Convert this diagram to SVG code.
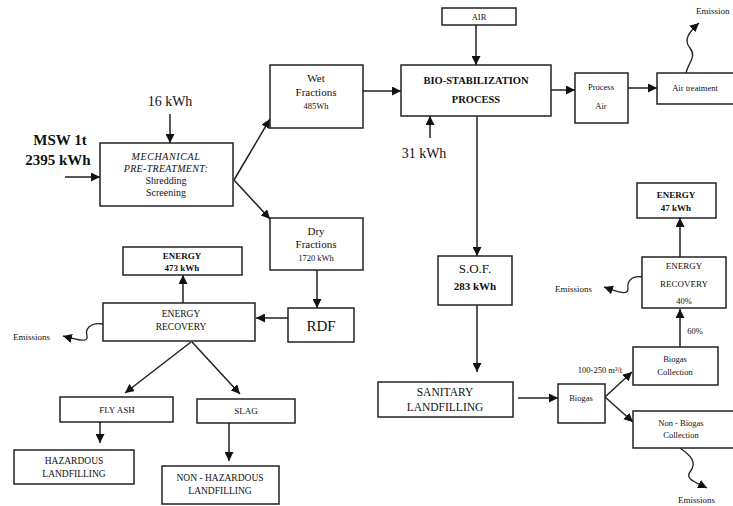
<svg xmlns="http://www.w3.org/2000/svg" width="733" height="506" viewBox="0 0 733 506">
<style>
  .box { fill: #fff; stroke: #222; stroke-width: 1.5; }
  .ln { fill: none; stroke: #222; stroke-width: 1.5; marker-end: url(#ah); }
  .sq { fill: none; stroke: #222; stroke-width: 1.3; marker-end: url(#ah); }
  text { font-family: "Liberation Serif", "Times New Roman", serif; fill: #111; text-anchor: middle; }
  .s { font-size: 10px; }
  .b { font-weight: bold; }
  .e { font-size: 9px; text-anchor: start; }
</style>
<defs>
  <marker id="ah" markerUnits="userSpaceOnUse" markerWidth="10" markerHeight="9" refX="9" refY="4.5" orient="auto">
    <path d="M0,0 L9,4.5 L0,9 z" fill="#111"/>
  </marker>
</defs>
<rect width="733" height="506" fill="#fff"/>

<g id="connectors">
  <line class="ln" x1="65" y1="177" x2="100" y2="177"/>
  <line class="ln" x1="170" y1="114" x2="170" y2="143"/>
  <line class="ln" x1="234" y1="180" x2="270" y2="119"/>
  <line class="ln" x1="234" y1="180" x2="270" y2="219"/>
  <line class="ln" x1="363" y1="91" x2="401" y2="91"/>
  <line class="ln" x1="476" y1="25" x2="476" y2="65"/>
  <line class="ln" x1="430" y1="138" x2="430" y2="116"/>
  <line class="ln" x1="551" y1="90" x2="575" y2="90"/>
  <line class="ln" x1="628" y1="88" x2="657" y2="88"/>
  <path class="sq" d="M686,73 C688,63 697,57 690,48 C683,40 689,32 699,23"/>
  <line class="ln" x1="317" y1="270" x2="317" y2="308"/>
  <line class="ln" x1="288" y1="318" x2="256" y2="318"/>
  <line class="ln" x1="183" y1="303" x2="183" y2="275"/>
  <path class="sq" d="M103,324 C89,322 85,330 87,336 C89,343 78,340 63,336"/>
  <line class="ln" x1="191" y1="342" x2="125" y2="393"/>
  <line class="ln" x1="192" y1="342" x2="240" y2="394"/>
  <line class="ln" x1="100" y1="422" x2="100" y2="443"/>
  <line class="ln" x1="229" y1="423" x2="229" y2="461"/>
  <line class="ln" x1="477" y1="116" x2="477" y2="256"/>
  <line class="ln" x1="477" y1="305" x2="477" y2="372"/>
  <line class="ln" x1="518" y1="398" x2="558" y2="398"/>
  <line class="ln" x1="605" y1="397" x2="632" y2="372"/>
  <line class="ln" x1="605" y1="397" x2="633" y2="422"/>
  <line class="ln" x1="680" y1="347" x2="680" y2="309"/>
  <line class="ln" x1="680" y1="257" x2="680" y2="218"/>
  <path class="sq" d="M643,277 C631,275 627,282 628,288 C629,296 618,292 604,287"/>
  <path class="sq" d="M680,448 C690,455 698,462 690,472 C685,479 695,482 707,488"/>
</g>

<g id="msw">
  <text x="60" y="145" class="b" font-size="15">MSW 1t</text>
  <text x="58" y="165" class="b" font-size="15">2395 kWh</text>
</g>
<g id="kwh16"><text x="170" y="106" font-size="14">16 kWh</text></g>
<g id="mech">
  <rect class="box" x="100" y="143" width="133" height="63"/>
  <text x="166" y="160" class="s" font-style="italic" letter-spacing="0.6">MECHANICAL</text>
  <text x="166" y="172" class="s" font-style="italic" letter-spacing="0.3">PRE-TREATMENT:</text>
  <text x="166" y="184" class="s">Shredding</text>
  <text x="166" y="196" class="s">Screening</text>
</g>
<g id="wet">
  <rect class="box" x="270" y="65" width="93" height="63"/>
  <text x="316" y="82" font-size="11">Wet</text>
  <text x="316" y="96" font-size="11">Fractions</text>
  <text x="316" y="109" font-size="8.5">485Wh</text>
</g>
<g id="dry">
  <rect class="box" x="270" y="218" width="93" height="52"/>
  <text x="316" y="235" font-size="11">Dry</text>
  <text x="316" y="248" font-size="11">Fractions</text>
  <text x="316" y="261" font-size="8.5">1720 kWh</text>
</g>
<g id="rdf">
  <rect class="box" x="288" y="308" width="66" height="34"/>
  <text x="321" y="331" font-size="15">RDF</text>
</g>
<g id="er1">
  <rect class="box" x="103" y="303" width="152" height="38"/>
  <text x="181" y="317" font-size="9.5">ENERGY</text>
  <text x="181" y="330" font-size="9.5">RECOVERY</text>
</g>
<g id="energy473">
  <rect class="box" x="123" y="247" width="119" height="28"/>
  <text x="182" y="259" class="b" font-size="9">ENERGY</text>
  <text x="182" y="271" class="b" font-size="9">473 kWh</text>
</g>
<g id="emis1"><text x="13" y="340" class="e">Emissions</text></g>
<g id="flyash">
  <rect class="box" x="60" y="397" width="113" height="25"/>
  <text x="117" y="413" font-size="9">FLY ASH</text>
</g>
<g id="slag">
  <rect class="box" x="197" y="399" width="98" height="24"/>
  <text x="246" y="414" font-size="9">SLAG</text>
</g>
<g id="hazardous">
  <rect class="box" x="14" y="450" width="120" height="34"/>
  <text x="74" y="464" font-size="9.5">HAZARDOUS</text>
  <text x="74" y="477" font-size="9.5">LANDFILLING</text>
</g>
<g id="nonhazardous">
  <rect class="box" x="162" y="466" width="117" height="38"/>
  <text x="220" y="481" font-size="9.5">NON - HAZARDOUS</text>
  <text x="220" y="494" font-size="9.5">LANDFILLING</text>
</g>
<g id="air">
  <rect class="box" x="442" y="8" width="74" height="17"/>
  <text x="479" y="20" font-size="8.5">AIR</text>
</g>
<g id="bio">
  <rect class="box" x="401" y="65" width="150" height="51"/>
  <text x="476" y="84" class="b" font-size="10.5">BIO-STABILIZATION</text>
  <text x="476" y="103" class="b" font-size="10.5">PROCESS</text>
</g>
<g id="kwh31"><text x="424" y="158" font-size="14">31 kWh</text></g>
<g id="processair">
  <rect class="box" x="575" y="73" width="53" height="50"/>
  <text x="601" y="90" font-size="8.5">Process</text>
  <text x="601" y="109" font-size="8.5">Air</text>
</g>
<g id="airtreatment">
  <rect class="box" x="657" y="73" width="80" height="31"/>
  <text x="695" y="91" font-size="8.5">Air treatment</text>
</g>
<g id="emis0"><text x="696" y="14" class="e" font-size="8.5">Emission</text></g>
<g id="sof">
  <rect class="box" x="438" y="256" width="74" height="49"/>
  <text x="475" y="273" font-size="13">S.O.F.</text>
  <text x="475" y="290" class="b" font-size="11">283 kWh</text>
</g>
<g id="sanitary">
  <rect class="box" x="378" y="382" width="135" height="35"/>
  <text x="445" y="396" font-size="11.5">SANITARY</text>
  <text x="445" y="411" font-size="11.5">LANDFILLING</text>
</g>
<g id="biogas">
  <rect class="box" x="558" y="384" width="47" height="39"/>
  <text x="581" y="401" font-size="8.5">Biogas</text>
</g>
<g id="rate"><text x="600" y="373" font-size="8.5">100-250 m³/t</text></g>
<g id="biogascollection">
  <rect class="box" x="633" y="347" width="85" height="38"/>
  <text x="675" y="362" font-size="8.5">Biogas</text>
  <text x="675" y="375" font-size="8.5">Collection</text>
</g>
<g id="nonbiogas">
  <rect class="box" x="633" y="411" width="102" height="37"/>
  <text x="681" y="426" font-size="8.5">Non - Biogas</text>
  <text x="681" y="438" font-size="8.5">Collection</text>
</g>
<g id="emis3"><text x="678" y="503" class="e" font-size="8.5">Emissions</text></g>
<g id="pct60"><text x="695" y="334" font-size="8.5">60%</text></g>
<g id="er2">
  <rect class="box" x="642" y="257" width="84" height="51"/>
  <text x="684" y="269" font-size="9">ENERGY</text>
  <text x="684" y="287" font-size="9">RECOVERY</text>
  <text x="684" y="304" font-size="8.5">40%</text>
</g>
<g id="energy47">
  <rect class="box" x="637" y="183" width="79" height="35"/>
  <text x="676" y="198" class="b" font-size="9">ENERGY</text>
  <text x="676" y="211" class="b" font-size="9">47 kWh</text>
</g>
<g id="emis2"><text x="555" y="292" class="e">Emissions</text></g>
</svg>
